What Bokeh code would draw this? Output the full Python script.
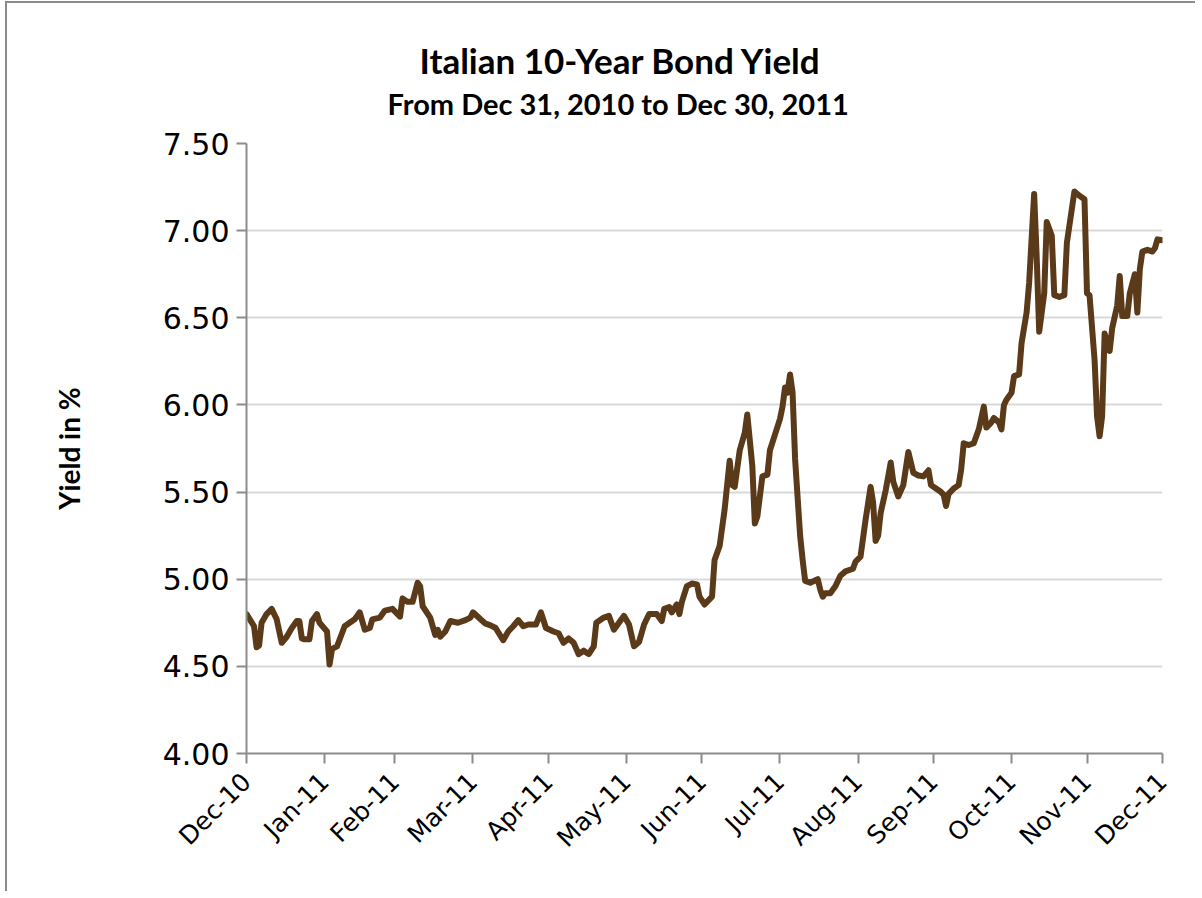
import numpy as np
from math import pi
from bokeh.plotting import figure
from bokeh.models import (Range1d, FixedTicker, DatetimeTickFormatter,
                          NumeralTickFormatter, Title, ColumnDataSource)
from bokeh.embed import file_html
from bokeh.resources import INLINE

# ---------------- data ----------------
title_text = "Italian 10-Year Bond Yield"
subtitle_text = "From Dec 31, 2010 to Dec 30, 2011"
y_label = "Yield in %"

start_date = "2010-12-31"
# days elapsed since Dec 31, 2010
day_offsets = [
    0, 3, 4, 5, 6, 8, 10, 12, 14, 16, 18, 20, 21, 22, 23, 25, 26, 28, 29,
    32, 33, 34, 36, 39, 41, 43, 45, 47, 49, 50, 53, 55, 58,
    61, 62, 64, 66, 68, 69, 70, 73, 75, 76, 77, 79, 81, 84, 87, 89,
    90, 93, 95, 97, 99, 102, 104, 106, 108, 110, 112, 115, 117, 119,
    122, 124, 126, 128, 130, 132, 134, 136, 138, 139, 142, 144, 146, 147, 150,
    152, 154, 156, 158, 160, 163, 165, 166, 168, 169, 171, 172, 173, 175, 177, 179, 180,
    182, 183, 185, 186, 188, 190, 192, 193, 194, 196, 198, 199, 201, 202, 203, 205, 207, 208, 210,
    212, 213, 214, 215, 216, 217, 218, 220, 221, 222, 224, 227, 228, 229, 230, 232, 234, 236, 238, 241, 242,
    244, 246, 248, 249, 250, 251, 252, 254, 256, 257, 259, 261, 263, 265, 267, 269, 271, 272,
    274, 276, 277, 278, 279, 281, 283, 284, 285, 287, 289, 291, 293, 294, 296, 297, 299, 300, 301, 302,
    304, 305, 307, 308, 310, 311, 313, 314, 315, 316, 317, 318, 320, 321, 323, 325, 326, 329, 331, 333,
    334, 335, 337, 338, 339, 340, 341, 343, 344, 346, 347, 348, 350, 351, 353, 354, 355, 356, 358, 360, 361, 362, 364,
]
yields = [
    4.80, 4.73, 4.61, 4.62, 4.75, 4.80, 4.83, 4.77, 4.635, 4.67, 4.72, 4.76, 4.76, 4.66, 4.655, 4.655, 4.76, 4.80, 4.75,
    4.70, 4.51, 4.60, 4.615, 4.73, 4.75, 4.77, 4.81, 4.71, 4.72, 4.77, 4.78, 4.82, 4.83,
    4.785, 4.89, 4.87, 4.87, 4.98, 4.96, 4.845, 4.78, 4.68, 4.71, 4.67, 4.70, 4.76, 4.75, 4.765, 4.78,
    4.81, 4.77, 4.745, 4.735, 4.72, 4.65, 4.70, 4.73, 4.765, 4.73, 4.74, 4.74, 4.81, 4.72,
    4.70, 4.69, 4.635, 4.66, 4.635, 4.57, 4.59, 4.57, 4.615, 4.75, 4.78, 4.79, 4.71, 4.73, 4.79,
    4.74, 4.615, 4.64, 4.74, 4.80, 4.80, 4.76, 4.83, 4.84, 4.81, 4.855, 4.80, 4.87, 4.96, 4.975, 4.97, 4.90,
    4.855, 4.87, 4.90, 5.11, 5.19, 5.40, 5.68, 5.54, 5.53, 5.74, 5.84, 5.945, 5.65, 5.32, 5.36, 5.59, 5.60, 5.74, 5.83,
    5.92, 5.99, 6.10, 6.07, 6.175, 6.07, 5.69, 5.25, 5.11, 4.99, 4.98, 5.00, 4.94, 4.90, 4.92, 4.92, 4.96, 5.02, 5.045, 5.06, 5.10,
    5.13, 5.34, 5.53, 5.44, 5.22, 5.25, 5.38, 5.51, 5.67, 5.56, 5.475, 5.54, 5.73, 5.61, 5.595, 5.59, 5.625, 5.54,
    5.52, 5.50, 5.485, 5.42, 5.49, 5.52, 5.54, 5.63, 5.78, 5.77, 5.78, 5.86, 5.99, 5.87, 5.90, 5.925, 5.90, 5.86, 6.00, 6.03,
    6.07, 6.165, 6.175, 6.355, 6.53, 6.70, 7.21, 6.85, 6.42, 6.53, 6.64, 7.05, 6.97, 6.63, 6.62, 6.63, 6.93, 7.225, 7.20, 7.18,
    6.64, 6.63, 6.26, 5.935, 5.82, 5.935, 6.41, 6.31, 6.44, 6.57, 6.74, 6.51, 6.51, 6.64, 6.75, 6.53, 6.78, 6.88, 6.89, 6.88, 6.90, 6.95, 6.945,
]
assert len(day_offsets) == len(yields)

tick_dates = ["2010-12-31", "2011-01-31", "2011-02-28", "2011-03-31", "2011-04-30",
              "2011-05-31", "2011-06-30", "2011-07-31", "2011-08-31", "2011-09-30",
              "2011-10-31", "2011-11-30", "2011-12-30"]
y_ticks = [4.00, 4.50, 5.00, 5.50, 6.00, 6.50, 7.00, 7.50]

# ---------------- build ----------------
dates = (np.datetime64(start_date, "D") + np.array(day_offsets, dtype="timedelta64[D]")).astype("datetime64[ms]")
src = ColumnDataSource(dict(date=dates, yld=yields))

tick_ms = np.array(tick_dates, dtype="datetime64[ms]").astype("int64").astype(float).tolist()

p = figure(width=1190, height=890, x_axis_type="datetime",
           x_range=Range1d(tick_ms[0], tick_ms[-1]), y_range=Range1d(4.0, 7.5),
           output_backend="svg", toolbar_location=None,
           min_border_left=239, min_border_right=35, min_border_top=140, min_border_bottom=140,
           background_fill_color="white", border_fill_color="white",
           styles={"margin-left": "5px", "margin-top": "1px",
                   "border-left": "2px solid #8c8c8c", "border-top": "2px solid #8c8c8c"})
p.outline_line_color = None

p.line("date", "yld", source=src, line_color="#5b3a1a", line_width=6,
       line_join="round", line_cap="round")

# titles: main title outermost, subtitle just below it
p.title.text = title_text
p.title.align = "left"
p.title.offset = 173
p.title.standoff = -40
p.title.text_font = "Lato"
p.title.text_font_style = "bold"
p.title.text_font_size = "35px"
p.title.text_color = "black"
p.add_layout(Title(text=subtitle_text, align="left", offset=141, standoff=46,
                   text_font="Lato", text_font_style="bold", text_font_size="29px",
                   text_color="black"), "above")

# axes
axis_color = "#8c8c8c"
p.xaxis.ticker = FixedTicker(ticks=tick_ms)
fmt = "%b-%y"
p.xaxis.formatter = DatetimeTickFormatter(
    microseconds=fmt, milliseconds=fmt, seconds=fmt, minsec=fmt, minutes=fmt,
    hourmin=fmt, hours=fmt, days=fmt, months=fmt, years=fmt)
p.xaxis.major_label_orientation = pi / 4
p.yaxis.ticker = FixedTicker(ticks=y_ticks)
p.yaxis.formatter = NumeralTickFormatter(format="0.00")

for ax in (p.xaxis, p.yaxis):
    ax.axis_line_color = axis_color
    ax.axis_line_width = 2
    ax.major_tick_line_color = axis_color
    ax.major_tick_line_width = 2
    ax.major_tick_out = 10
    ax.major_tick_in = 0
    ax.minor_tick_line_color = None
    ax.major_label_text_font = "DejaVu Sans"
    ax.major_label_text_color = "black"

p.yaxis.major_label_text_font_size = "30px"
p.xaxis.major_label_text_font_size = "25px"
p.yaxis.major_label_standoff = 7
p.xaxis.major_label_standoff = 14
p.yaxis.axis_label = y_label
p.yaxis.axis_label_text_font = "Lato"
p.yaxis.axis_label_text_font_style = "bold"
p.yaxis.axis_label_text_font_size = "28px"
p.yaxis.axis_label_text_color = "black"
p.yaxis.axis_label_standoff = 74

p.xgrid.grid_line_color = None
p.ygrid.ticker = FixedTicker(ticks=y_ticks)
p.ygrid.grid_line_color = "#d9d9d9"
p.ygrid.grid_line_width = 2

open("out.html", "w").write(file_html(p, INLINE))
